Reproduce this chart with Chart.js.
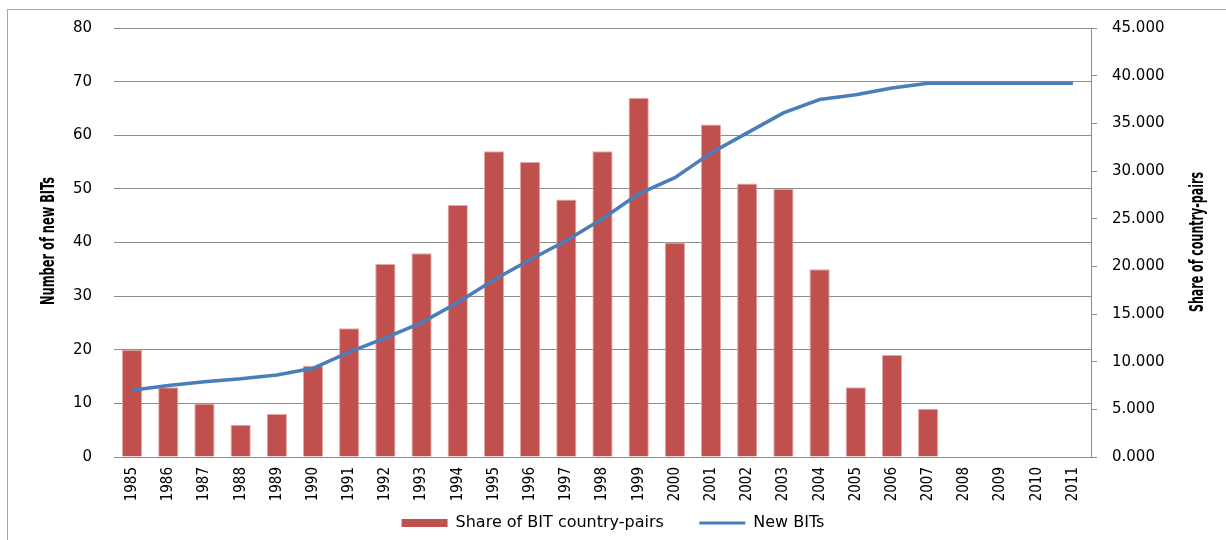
<!DOCTYPE html>
<html>
<head>
<meta charset="utf-8">
<script src="https://cdn.jsdelivr.net/npm/chart.js@4/dist/chart.umd.min.js"></script>
<style>
  html, body { margin: 0; padding: 0; background: #fff; overflow: hidden; }
  #wrap { position: relative; width: 1226px; height: 540px; overflow: hidden; }
  #frame {
    position: absolute; left: 7px; top: 9px; width: 1260px; height: 580px;
    border: 1px solid #a6a6a6;
  }
  /* nudged up a little so the plot area lines up with the reference */
  #chart { position: absolute; left: 0; top: -3px; }
</style>
</head>
<body>
<div id="wrap">
  <div id="frame"></div>
  <canvas id="chart" width="1226" height="544"></canvas>
</div>
<script>
// data
const years = ['1985', '1986', '1987', '1988', '1989', '1990', '1991', '1992', '1993',
  '1994', '1995', '1996', '1997', '1998', '1999', '2000', '2001', '2002', '2003',
  '2004', '2005', '2006', '2007', '2008', '2009', '2010', '2011'];

// bars, left axis
const barValues = [20, 13, 10, 6, 8, 17, 24, 36, 38, 47, 57, 55, 48, 57, 67, 40, 62,
  51, 50, 35, 13, 19, 9, 0, 0, 0, 0];

// line, right axis
const lineValues = [7.0, 7.5, 7.9, 8.2, 8.6, 9.3, 11.0, 12.5, 14.1, 16.2, 18.6, 20.7,
  22.7, 25.0, 27.6, 29.3, 31.9, 34.0, 36.1, 37.5, 38.0, 38.7, 39.2, 39.2, 39.2, 39.2, 39.2];

const barLabel = 'Share of BIT country-pairs';
const lineLabel = 'New BITs';
const leftTitle = 'Number of new BITs';
const rightTitle = 'Share of country-pairs';

const BAR_COLOR = '#C0504D';
const LINE_COLOR = '#4A7EBB';
const GRID_COLOR = '#8c8c8c';

/**
 * Excel style axis titles, both rotated the same way
 */
const axisTitles = {
  id: 'axisTitles',
  afterDraw(chart) {
    const ctx = chart.ctx;
    const draw = (text, x, y, len) => {
      ctx.save();
      ctx.font = 'bold 19px "Liberation Sans Narrow", "DejaVu Sans Condensed", sans-serif';
      ctx.fillStyle = '#000';
      ctx.textAlign = 'center';
      ctx.textBaseline = 'middle';
      ctx.translate(x, y);
      ctx.rotate(-Math.PI / 2);
      const w = ctx.measureText(text).width;
      ctx.scale(len / w, 1);
      ctx.fillText(text, 0, 0);
      ctx.restore();
    };
    // canvas sits 3px higher than the page
    draw(leftTitle, 49, 244, 128);
    draw(rightTitle, 1198, 245, 140);
  }
};

const tickFont = { family: '"DejaVu Sans", Verdana, sans-serif', size: 15 };

new Chart(document.getElementById('chart'), {
  data: {
    labels: years,
    datasets: [
      {
        type: 'bar',
        label: barLabel,
        data: barValues,
        yAxisID: 'y',
        backgroundColor: BAR_COLOR,
        borderColor: '#e3aaa8',
        borderWidth: 1,
        barPercentage: 1,
        categoryPercentage: 0.56,
        order: 2
      },
      {
        type: 'line',
        label: lineLabel,
        data: lineValues,
        yAxisID: 'y1',
        borderColor: LINE_COLOR,
        backgroundColor: LINE_COLOR,
        borderWidth: 3.5,
        pointRadius: 0,
        tension: 0,
        order: 1
      }
    ]
  },
  options: {
    responsive: false,
    animation: false,
    devicePixelRatio: 1,
    layout: { padding: { top: 17, left: 0, right: 0, bottom: 0 } },
    plugins: {
      tooltip: { enabled: false },
      legend: {
        position: 'bottom',
        labels: {
          usePointStyle: true,
          pointStyleWidth: 46,
          boxHeight: 8,
          padding: 10,
          color: '#000',
          font: { family: '"DejaVu Sans", Verdana, sans-serif', size: 16 },
          sort: (a, b) => a.datasetIndex - b.datasetIndex,
          generateLabels: (chart) => {
            const items = Chart.defaults.plugins.legend.labels.generateLabels(chart);
            for (const it of items) {
              if (it.datasetIndex === 0) {
                it.pointStyle = 'rect';
                it.fillStyle = BAR_COLOR;
                it.lineWidth = 0;
                // wider gap before the next item, as in Excel
                it.text = it.text + '\u00a0\u00a0\u00a0\u00a0\u00a0';
              } else {
                it.pointStyle = 'line';
                it.strokeStyle = LINE_COLOR;
                it.lineWidth = 3;
              }
            }
            return items;
          }
        }
      }
    },
    scales: {
      x: {
        grid: { display: false, drawTicks: false },
        border: { display: true, color: GRID_COLOR },
        ticks: {
          minRotation: 90,
          maxRotation: 90,
          padding: 10,
          color: '#000',
          font: { family: '"Liberation Sans Narrow", "DejaVu Sans Condensed", sans-serif', size: 15 }
        },
        afterFit: (scale) => { scale.height = 48; }
      },
      y: {
        position: 'left',
        min: 0,
        max: 80,
        ticks: { stepSize: 10, padding: 22, color: '#000', font: tickFont },
        grid: { color: GRID_COLOR, drawTicks: false },
        border: { display: false },
        afterFit: (scale) => { scale.width = 114; }
      },
      y1: {
        position: 'right',
        min: 0,
        max: 45,
        ticks: {
          stepSize: 5,
          padding: 15,
          color: '#000',
          font: tickFont,
          callback: (v) => v.toFixed(3)
        },
        grid: { drawOnChartArea: false, color: GRID_COLOR, tickLength: 6 },
        border: { display: true, color: GRID_COLOR },
        afterFit: (scale) => { scale.width = 135; }
      }
    }
  },
  plugins: [axisTitles]
});
</script>
</body>
</html>
